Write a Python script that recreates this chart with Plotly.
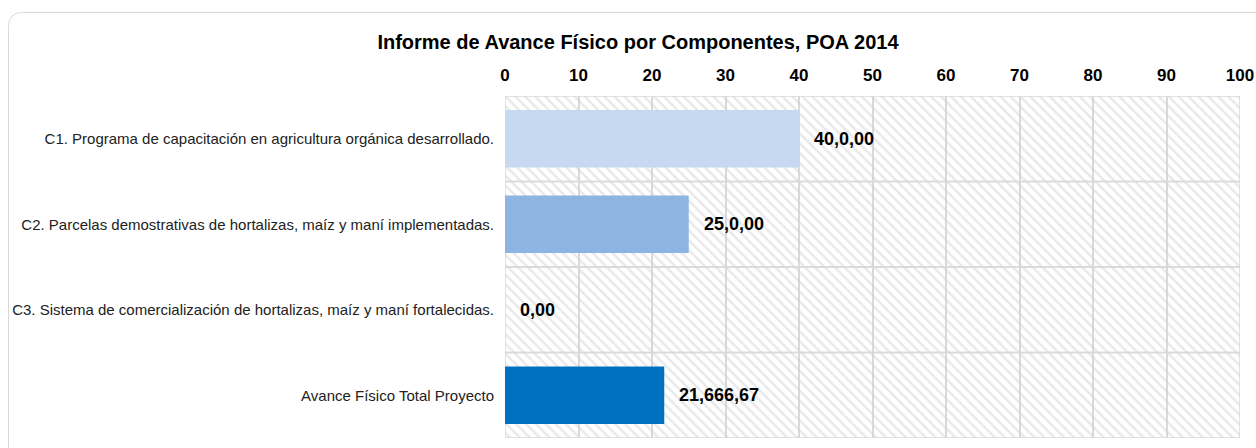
import plotly.graph_objects as go

categories = [
    "C1. Programa de capacitación en agricultura orgánica desarrollado.",
    "C2. Parcelas demostrativas de hortalizas, maíz y maní implementadas.",
    "C3. Sistema de comercialización de hortalizas, maíz y maní fortalecidas.",
    "Avance Físico Total Proyecto",
]
values = [40.0, 25.0, 0.0, 21.66667]
value_labels = ["40,0,00", "25,0,00", "0,00", "21,666,67"]
bar_colors = ["#c6d9f1", "#8db4e2", "#8db4e2", "#0070c0"]
tick_values = [0, 10, 20, 30, 40, 50, 60, 70, 80, 90, 100]
AXIS_MAX = 100

W, H = 1256, 448
L, T = 505, 96
R = W - 1240
B = H - 438
pw, ph = W - L - R, H - T - B

def px(x):
    return (x - L) / pw

def py(y):
    return (H - B - y) / ph

FONT = "Liberation Sans, Arial"

fig = go.Figure()

# hatched background bands (plot area decoration)
fig.add_trace(go.Bar(
    y=categories, x=[AXIS_MAX] * len(categories), orientation="h", width=1,
    marker=dict(color="rgba(0,0,0,0)",
                line=dict(color="#d9d9d9", width=1.5),
                pattern=dict(shape="\\", fgcolor="#d2d2d2", bgcolor="rgba(0,0,0,0)",
                             size=7, solidity=0.35)),
    hoverinfo="skip", showlegend=False,
))

fig.add_trace(go.Bar(
    y=categories, x=values, orientation="h", width=0.67,
    marker=dict(color=bar_colors, line=dict(width=0)),
    showlegend=False,
))

for cat, v, lab in zip(categories, values, value_labels):
    fig.add_annotation(x=v, y=cat, text=f"<b>{lab}</b>", showarrow=False,
                       xanchor="left", xshift=13,
                       font=dict(family=FONT, size=18, color="#000"))

# rounded outer frame
x0, y0, x1, y1, r = 8.5, 12.5, 1270, 462, 14
path = (f"M {px(x0)},{py(y0 + r)} Q {px(x0)},{py(y0)} {px(x0 + r)},{py(y0)} "
        f"L {px(x1)},{py(y0)} L {px(x1)},{py(y1)} L {px(x0 + r)},{py(y1)} "
        f"Q {px(x0)},{py(y1)} {px(x0)},{py(y1 - r)} Z")
fig.add_shape(type="path", path=path, xref="paper", yref="paper",
              line=dict(color="#d9d9d9", width=1), layer="below")

fig.update_layout(
    width=W, height=H,
    margin=dict(l=L, r=R, t=T, b=B, autoexpand=False),
    paper_bgcolor="white", plot_bgcolor="white",
    barmode="overlay",
    title=dict(text="<b>Informe de Avance Físico por Componentes, POA 2014</b>",
               x=638 / W, xanchor="center", y=1 - 42 / H, yanchor="middle",
               yref="container",
               font=dict(family=FONT, size=20, color="#000")),
    xaxis=dict(side="top", range=[0, AXIS_MAX], tickvals=tick_values,
               tickfont=dict(family=FONT, size=17, color="#000", weight="bold"),
               showgrid=True, gridcolor="#d9d9d9", gridwidth=1.5,
               zeroline=False, showline=False, ticks="", ticklabelstandoff=11,
               automargin=False, ticklabeloverflow="allow", fixedrange=True),
    yaxis=dict(autorange="reversed", showgrid=False, zeroline=False, showline=False,
               tickfont=dict(family=FONT, size=15, color="#222"),
               ticks="", ticklabelstandoff=10, automargin=False, fixedrange=True),
)

fig.write_html("out.html",
               config={"displayModeBar": False},
               post_script="document.body.style.margin='0';document.body.style.overflow='hidden';")
